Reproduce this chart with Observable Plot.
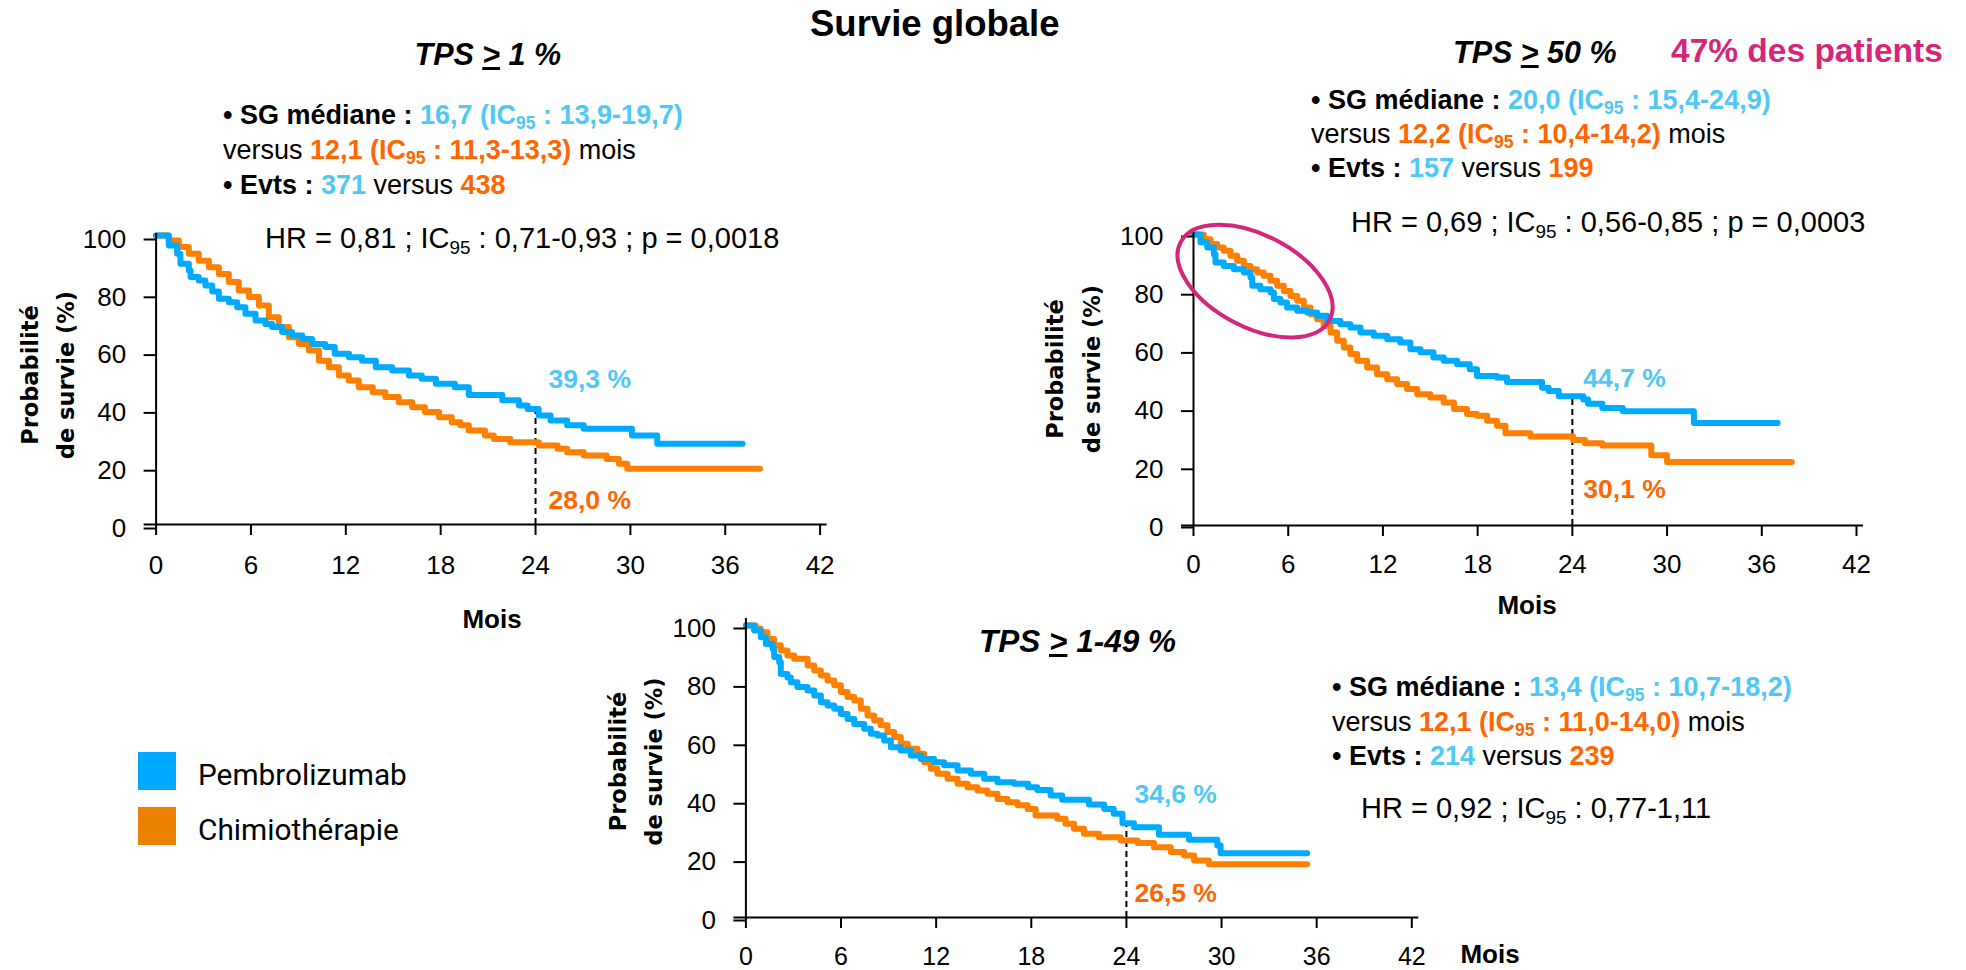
<!DOCTYPE html>
<html><head><meta charset="utf-8">
<script src="https://cdn.jsdelivr.net/npm/d3@7"></script>
<script src="https://cdn.jsdelivr.net/npm/@observablehq/plot@0.6"></script>
<style>
 body{margin:0;background:#fff;}
 #root{position:relative;width:1966px;height:970px;overflow:hidden;background:#fff;font-family:"Liberation Sans",Arial,sans-serif;color:#000;}
 .t{position:absolute;white-space:nowrap;line-height:1.2;}
 .fig{position:absolute;left:0;top:0;pointer-events:none;}
 .blue{color:#4FC8F5} .orange{color:#FF6600}
 sub{font-size:0.65em;vertical-align:-0.3em;line-height:0}
 .sq{position:absolute;width:38px;height:38px;}
</style></head><body><div id="root"></div>
<script>
// ---------- data ----------
const xTicks = [0, 6, 12, 18, 24, 30, 36, 42];
const yTicks = [0, 20, 40, 60, 80, 100];
const seriesNames = ["Chimiothérapie", "Pembrolizumab"];
const landmarkMonth = 24;

// TPS >= 1 %
const tps1PembroMonths = [0,0.8,1.33,1.54,2.07,2.18,2.7,3.12,3.55,3.97,4.6,5.13,5.65,6.29,6.92,7.34,7.97,8.6,9.24,9.87,10.7,11.3,12.2,13.03,13.9,14.93,15.99,16.8,17.7,18.9,19.78,21.9,22.95,23.5,24.2,24.95,26.0,27.05,30.1,31.7,37.1];
const tps1PembroSurv   = [100,96.5,93.7,90.2,87.9,85.6,84.4,82.7,80.6,78.1,76.9,75.2,72.9,70.6,69.4,68.3,66.6,65.4,64.2,62.5,61.4,59.1,57.9,56.7,54.4,53.3,51.6,50.4,48.7,47.5,44.8,43.0,41.2,40.0,37.7,36.0,34.3,33.1,30.8,27.9,27.9];
const tps1ChemoMonths  = [0,0.8,1.44,2.07,2.7,3.34,3.97,4.6,5.23,5.87,6.5,7.13,7.76,8.4,9.03,9.66,10.3,10.93,11.56,12.19,12.82,13.7,14.5,15.35,16.2,17.0,17.9,18.7,19.25,19.78,20.8,21.36,22.4,24.2,25.4,26.0,27.05,28.5,29.27,29.8,38.2];
const tps1ChemoSurv    = [100,98.3,96.0,93.7,91.3,89.0,86.7,83.9,81.0,78.7,75.8,71.7,68.3,64.8,62.5,60.2,56.7,54.4,51.6,49.8,47.5,45.8,44.1,42.3,40.6,38.9,37.1,35.4,34.3,32.5,30.8,29.6,28.5,27.3,26.2,25.0,23.9,22.7,21.0,19.3,19.3];

// TPS >= 50 %
const tps50PembroMonths = [0,0.44,0.87,1.29,1.39,1.92,2.55,3.19,3.61,3.72,4.24,4.88,5.09,5.51,5.93,6.57,7.2,7.83,8.47,9.31,9.94,10.58,11.42,12.27,13.1,13.74,14.38,15.2,15.85,16.7,17.5,17.96,19.23,19.86,22.08,22.5,23.14,24.7,25.0,25.9,27.2,31.7,37.0];
const tps50PembroSurv   = [100,97.3,95.5,93.2,90.4,89.2,88.1,86.9,85.2,82.4,81.2,80.1,77.8,76.6,74.9,73.8,73.2,72.1,70.3,69.2,68.0,66.3,65.2,64.0,62.9,60.6,59.5,57.7,56.6,55.4,53.7,51.4,50.9,49.3,47.3,46.2,44.4,43.3,41.8,40.4,39.3,35.2,35.2];
const tps50ChemoMonths  = [0,0.65,1.08,1.5,1.92,2.34,2.77,3.19,3.61,4.03,4.45,4.88,5.3,5.72,6.14,6.57,6.99,7.41,7.83,8.25,8.68,9.1,9.52,9.94,10.37,11.0,11.63,12.27,12.9,13.53,14.17,15.0,15.85,16.5,17.33,17.96,18.6,19.23,19.76,21.34,24.05,24.8,25.9,29.0,30.0,37.9];
const tps50ChemoSurv    = [100,98.4,96.7,95.5,94.4,92.7,91.0,89.2,88.1,86.9,85.8,84.1,82.4,80.6,78.9,77.2,74.9,72.6,70.9,68.6,66.3,63.5,61.2,58.9,56.6,54.3,52.0,50.3,48.6,46.9,45.1,44.0,42.3,40.0,38.3,37.7,36.0,34.3,31.7,30.6,29.4,28.3,27.5,24.1,21.8,21.8];

// TPS 1-49 %
const tps149PembroMonths = [0,0.52,0.94,1.26,1.68,1.78,2.1,2.2,2.62,2.83,3.25,3.89,4.31,4.73,5.15,5.57,5.99,6.41,6.83,7.46,7.88,8.3,8.72,9.14,9.77,10.4,11.03,11.87,12.5,13.35,14.19,15.03,15.87,16.92,17.8,18.38,19.22,19.95,21.64,22.6,23.2,23.75,24.48,26.05,27.95,29.73,29.94,35.4];
const tps149PembroSurv   = [100,98.3,96.0,93.7,92.0,89.2,87.4,83.4,82.2,80.6,78.9,77.7,76.0,73.7,72.6,71.5,69.7,68.0,66.3,64.6,62.9,62.3,60.6,58.3,57.2,55.5,54.3,53.2,52.1,50.3,49.2,47.5,46.3,45.8,44.6,43.7,41.8,40.3,38.7,37.2,35.5,32.3,30.9,28.3,26.6,24.7,22.0,22.0];
const tps149ChemoMonths  = [0,0.63,0.94,1.36,1.78,2.2,2.62,3.05,3.89,4.31,4.73,5.15,5.57,5.99,6.41,6.83,7.25,7.67,8.09,8.51,8.93,9.35,9.77,10.2,10.82,11.24,11.66,12.08,12.72,13.35,13.98,14.61,15.24,15.87,16.5,17.14,17.77,18.27,19.64,20.16,20.69,21.32,22.27,23.64,24.7,25.74,26.8,27.64,28.27,29.2,35.4];
const tps149ChemoSurv    = [100,98.9,97.7,95.4,93.2,91.4,89.7,88.6,86.3,84.6,82.9,81.2,79.5,77.2,75.5,74.3,71.5,69.2,67.5,65.8,63.5,61.8,59.5,57.8,56.1,53.2,50.9,49.2,47.5,45.8,44.6,43.5,42.4,40.6,39.5,38.4,37.2,34.9,33.8,32.1,30.4,28.7,27.5,26.4,25.5,24.1,22.4,21.2,19.5,18.2,18.2];

// summary statistics (order: TPS >= 1 %, TPS >= 50 %, TPS 1-49 %)
const tpsLabels = ["1 %", "50 %", "1-49 %"];
const os24Pembro = [39.3, 44.7, 34.6];
const os24Chemo  = [28.0, 30.1, 26.5];
const medianPembro = [16.7, 20.0, 13.4];
const medianPembroCI = [[13.9, 19.7], [15.4, 24.9], [10.7, 18.2]];
const medianChemo = [12.1, 12.2, 12.1];
const medianChemoCI = [[11.3, 13.3], [10.4, 14.2], [11.0, 14.0]];
const eventsPembro = [371, 157, 214];
const eventsChemo = [438, 199, 239];
const hazardRatio = [0.81, 0.69, 0.92];
const hazardRatioCI = [[0.71, 0.93], [0.56, 0.85], [0.77, 1.11]];
const pValue = ["0,0018", "0,0003", null];
const patientShare = "47% des patients";

// ---------- style ----------
const BLUE = "#00AAFF", ORANGE = "#FF7F00";
const TXT_BLUE = "#4FC8F5", TXT_ORANGE = "#FF6600", MAGENTA = "#D5267B";
const W = 1966, H = 970;
const root = document.getElementById("root");
const fr = (v, d) => v.toFixed(d).replace(".", ",");

function km(months, surv, group) { return months.map((m, i) => ({month: m, surv: surv[i], group})); }
function stepValueAt(months, surv, t) { let v = surv[0]; months.forEach((m, i) => { if (m <= t) v = surv[i]; }); return v; }

function ellipseMark(spec) {
  return (index, scales) => {
    const e = document.createElementNS("http://www.w3.org/2000/svg", "ellipse");
    const cx = scales.x(spec.month), cy = scales.y(spec.surv);
    e.setAttribute("cx", 0); e.setAttribute("cy", 0);
    e.setAttribute("rx", spec.rx); e.setAttribute("ry", spec.ry);
    e.setAttribute("transform", `translate(${cx},${cy}) rotate(${spec.angle})`);
    e.setAttribute("fill", "none"); e.setAttribute("stroke", spec.color); e.setAttribute("stroke-width", spec.width);
    return e;
  };
}

function chart(c, k) {
  const data = [...km(c.chemoM, c.chemoS, seriesNames[0]), ...km(c.pembroM, c.pembroS, seriesNames[1])];
  const dashTop = stepValueAt(c.pembroM, c.pembroS, landmarkMonth);
  const lmP = [{month: landmarkMonth, surv: os24Pembro[k], label: fr(os24Pembro[k], 1) + " %"}];
  const lmC = [{month: landmarkMonth, surv: os24Chemo[k], label: fr(os24Chemo[k], 1) + " %"}];
  const marks = [
    Plot.ruleX([landmarkMonth], {y1: 0, y2: dashTop, stroke: "#000", strokeWidth: 2, strokeDasharray: "6,4"}),
    Plot.line(data, {x: "month", y: "surv", z: "group", stroke: "group", curve: "step-after", strokeWidth: 6}),
    Plot.ruleY([0], {insetLeft: -12, insetRight: -7, stroke: "#000", strokeWidth: 2}),
    Plot.ruleX([0], {insetTop: c.yTopExt, stroke: "#000", strokeWidth: 2}),
    Plot.axisX(xTicks, {tickSize: 11, tickPadding: c.xPad, fontSize: c.xFont, strokeWidth: 2, label: null}),
    Plot.axisY(yTicks, {tickSize: 12, tickPadding: 18, fontSize: 26, dy: c.yDy, strokeWidth: 2, label: null}),
    Plot.text(lmP, {x: "month", y: "surv", text: "label", fill: TXT_BLUE, fontWeight: "bold", fontSize: 26.5, textAnchor: "start", lineAnchor: "bottom", dx: c.lblDx, dy: c.dyP}),
    Plot.text(lmC, {x: "month", y: "surv", text: "label", fill: TXT_ORANGE, fontWeight: "bold", fontSize: 26.5, textAnchor: "start", lineAnchor: "bottom", dx: c.lblDx, dy: c.dyC}),
    Plot.text(["Probabilité\nde survie (%)"], {frameAnchor: "left", rotate: -90, dx: c.ytDx, dy: c.ytDy, textAnchor: "middle", lineAnchor: "middle", fontFamily: "DejaVu Sans", fontWeight: "bold", fontSize: 22.5, lineHeight: 1.63})
  ];
  if (c.ellipse) marks.push(ellipseMark(c.ellipse));
  const fig = Plot.plot({
    width: W, height: H,
    marginLeft: c.x0, marginRight: W - c.x42, marginTop: c.y100, marginBottom: H - c.y0,
    style: {background: "transparent", overflow: "visible", fontFamily: "Liberation Sans, Arial, sans-serif", color: "#000"},
    x: {domain: [0, 42], axis: null, label: null},
    y: {domain: [0, 100], axis: null, label: null},
    color: {domain: seriesNames, range: [ORANGE, BLUE]},
    marks
  });
  const wrap = document.createElement("div");
  wrap.className = "fig";
  wrap.appendChild(fig);
  root.appendChild(wrap);
}

chart({pembroM: tps1PembroMonths, pembroS: tps1PembroSurv, chemoM: tps1ChemoMonths, chemoS: tps1ChemoSurv,
  x0: 155.6, x42: 819.6, y100: 235, y0: 524, xPad: 20, xFont: 26, yDy: 4, yTopExt: -2,
  lblDx: 13, dyP: -23, dyC: 65, ytDx: -112, ytDy: -5}, 0);
chart({pembroM: tps50PembroMonths, pembroS: tps50PembroSurv, chemoM: tps50ChemoMonths, chemoS: tps50ChemoSurv,
  x0: 1193, x42: 1856, y100: 234, y0: 525, xPad: 18, xFont: 26, yDy: 2, yTopExt: -2,
  lblDx: 11, dyP: -8, dyC: 60, ytDx: -123.5, ytDy: -11,
  ellipse: {month: 3.93, surv: 83.8, rx: 84, ry: 46, angle: 27.5, color: MAGENTA, width: 4}}, 1);
chart({pembroM: tps149PembroMonths, pembroS: tps149PembroSurv, chemoM: tps149ChemoMonths, chemoS: tps149ChemoSurv,
  x0: 745.4, x42: 1411.3, y100: 625, y0: 917, xPad: 18.5, xFont: 25, yDy: 3, yTopExt: -7,
  lblDx: 8, dyP: -13, dyC: 62, ytDx: -113.5, ytDy: -10}, 2);

// ---------- text ----------
function addText(html, x, baseline, size, opts = {}) {
  const d = document.createElement("div");
  d.className = "t";
  d.style.left = x + "px";
  d.style.fontSize = size + "px";
  d.style.top = (baseline - 0.9465 * size) + "px";
  if (opts.center) d.style.transform = "translateX(-50%)";
  if (opts.style) Object.assign(d.style, opts.style);
  d.innerHTML = html;
  root.appendChild(d);
  return d;
}
const B = s => `<b class="blue">${s}</b>`;
const O = s => `<b class="orange">${s}</b>`;
const IC = "IC<sub>95</sub>";
function stats(k, x, b1, b2, b3) {
  addText(`<b>• SG médiane : </b>${B(`${fr(medianPembro[k],1)} (${IC} : ${fr(medianPembroCI[k][0],1)}-${fr(medianPembroCI[k][1],1)})`)}`, x, b1, 27);
  addText(`versus ${O(`${fr(medianChemo[k],1)} (${IC} : ${fr(medianChemoCI[k][0],1)}-${fr(medianChemoCI[k][1],1)})`)} mois`, x, b2, 27);
  addText(`<b>• Evts : </b>${B(eventsPembro[k])} versus ${O(eventsChemo[k])}`, x, b3, 27);
}
function hr(k, x, b) {
  let s = `HR = ${fr(hazardRatio[k],2)} ; ${IC} : ${fr(hazardRatioCI[k][0],2)}-${fr(hazardRatioCI[k][1],2)}`;
  if (pValue[k]) s += ` ; p = ${pValue[k]}`;
  addText(s, x, b, 29);
}
const tps = k => `<b><i>TPS <u>&gt;</u> ${tpsLabels[k]}</i></b>`;

addText("<b>Survie globale</b>", 810, 37, 36.5);

addText(tps(0), 414.5, 65, 30.5);
stats(0, 223, 125, 160, 195);
hr(0, 265, 248);
addText("<b>Mois</b>", 492, 629, 26, {center: true});

addText(tps(1), 1453, 63, 30.5);
addText(`<b>${patientShare}</b>`, 1671, 63, 33.5, {style: {color: MAGENTA}});
stats(1, 1311, 110, 144, 178);
hr(1, 1351, 232);
addText("<b>Mois</b>", 1527, 615, 26, {center: true});

addText(tps(2), 979, 653, 31.5);
stats(2, 1332, 697, 732, 766);
hr(2, 1361, 818);
addText("<b>Mois</b>", 1490, 964, 26, {center: true});

// legend
const legendColors = ["#00AAFF", "#EC8000"];
["Pembrolizumab", "Chimiothérapie"].forEach((name, i) => {
  const sq = document.createElement("div");
  sq.className = "sq";
  sq.style.left = "138px"; sq.style.top = (752 + i * 55) + "px"; sq.style.background = legendColors[i];
  root.appendChild(sq);
  addText(name, 198, 785 + i * 55, 29.8, {style: {fontFamily: "Roboto, 'Open Sans', sans-serif"}});
});
</script></body></html>
